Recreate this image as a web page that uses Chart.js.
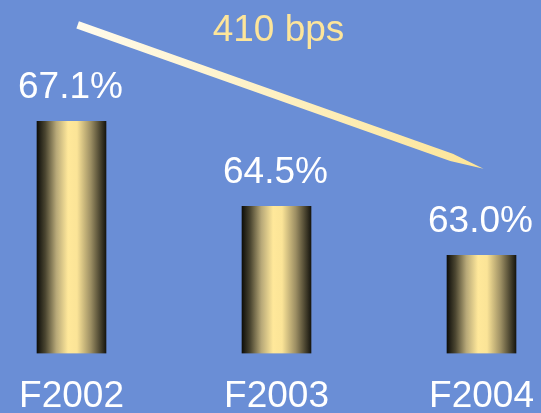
<!DOCTYPE html>
<html>
<head>
<meta charset="utf-8">
<script src="https://cdn.jsdelivr.net/npm/chart.js@4/dist/chart.umd.min.js"></script>
<style>
  html, body { margin: 0; padding: 0; background: #6A8ED6; }
  #wrap { width: 541px; height: 413px; position: relative; }
</style>
</head>
<body>
<div id="wrap"><canvas id="c" width="541" height="413"></canvas></div>
<script>
// ---- data ----
const categories = ['F2002', 'F2003', 'F2004'];
const marginValues = [67.1, 64.5, 63.0];
const valueLabels = ['67.1%', '64.5%', '63.0%'];
const changeLabel = '410 bps';
// arrow annotation endpoints in data units: [category index, value]
const arrowStart = [0.03, 70.05];
const arrowEnd = [2.01, 65.65];

const FONT = '"Liberation Sans", Arial, sans-serif';

function barGradient(context) {
  const chart = context.chart;
  if (!chart.chartArea || !chart.scales.x) return '#FFE699';
  const cx = chart.scales.x.getPixelForValue(context.dataIndex);
  const half = 34.5;
  const g = chart.ctx.createLinearGradient(cx - half, 0, cx + half, 0);
  g.addColorStop(0.00, '#0e0e0a');
  g.addColorStop(0.12, '#4a4530');
  g.addColorStop(0.28, '#b7a878');
  g.addColorStop(0.45, '#ffe89a');
  g.addColorStop(0.58, '#fbe497');
  g.addColorStop(0.78, '#9c8e63');
  g.addColorStop(1.00, '#17160f');
  return g;
}

const overlay = {
  id: 'overlay',
  afterDatasetsDraw(chart) {
    const ctx = chart.ctx;
    const xs = chart.scales.x, ys = chart.scales.y;
    ctx.save();
    // value labels above bars
    ctx.font = '37px ' + FONT;
    ctx.fillStyle = '#FFFFFF';
    ctx.textAlign = 'center';
    ctx.textBaseline = 'alphabetic';
    marginValues.forEach((v, i) => {
      const x = xs.getPixelForValue(i);
      const y = ys.getPixelForValue(v);
      ctx.fillText(valueLabels[i], x - 1, y - 23);
    });
    // arrow
    const x0 = xs.getPixelForValue(arrowStart[0]), y0 = ys.getPixelForValue(arrowStart[1]);
    const x1 = xs.getPixelForValue(arrowEnd[0]), y1 = ys.getPixelForValue(arrowEnd[1]);
    const dx = x1 - x0, dy = y1 - y0, len = Math.hypot(dx, dy);
    const ux = dx / len, uy = dy / len, nx = -uy, ny = ux;
    const hw = 3.8;
    const tx = x0 + ux * (len - 34), ty = y0 + uy * (len - 34);
    const grad = ctx.createLinearGradient(x0, y0, x1, y1);
    grad.addColorStop(0, '#FFFBEC');
    grad.addColorStop(1, '#FDE597');
    ctx.fillStyle = grad;
    ctx.beginPath();
    ctx.moveTo(x0 - nx * hw, y0 - ny * hw);
    ctx.lineTo(tx - nx * hw, ty - ny * hw);
    ctx.lineTo(x1, y1);
    ctx.lineTo(tx + nx * hw, ty + ny * hw);
    ctx.lineTo(x0 + nx * hw, y0 + ny * hw);
    ctx.closePath();
    ctx.fill();
    // change label
    ctx.fillStyle = '#FDE59A';
    ctx.font = '37px ' + FONT;
    ctx.textAlign = 'center';
    ctx.fillText(changeLabel, xs.getPixelForValue(1) + 2, chart.chartArea.top + 14.5);
    ctx.restore();
  }
};

new Chart(document.getElementById('c'), {
  type: 'bar',
  data: {
    labels: categories,
    datasets: [{
      data: marginValues,
      backgroundColor: barGradient,
      borderWidth: 0,
      barThickness: 69,
      base: 60,
      clip: { left: false, right: false, top: 0, bottom: 0 }
    }]
  },
  options: {
    responsive: false,
    animation: false,
    layout: { padding: { left: 71.5, right: 59.5, top: 26.5, bottom: 0 } },
    plugins: { legend: { display: false }, tooltip: { enabled: false }, title: { display: false } },
    scales: {
      x: {
        offset: false,
        grid: { display: false, drawTicks: false },
        border: { display: false },
        afterFit(scale) {
          scale.height = 59.5;
          scale.paddingLeft = 0;
          scale.paddingRight = 0;
        },
        ticks: {
          color: '#FFFFFF',
          padding: 28.7,
          maxRotation: 0,
          autoSkip: false,
          font: { family: FONT, size: 37, lineHeight: 0.8 }
        }
      },
      y: {
        display: false,
        min: 60,
        max: 70
      }
    }
  },
  plugins: [overlay]
});
</script>
</body>
</html>
